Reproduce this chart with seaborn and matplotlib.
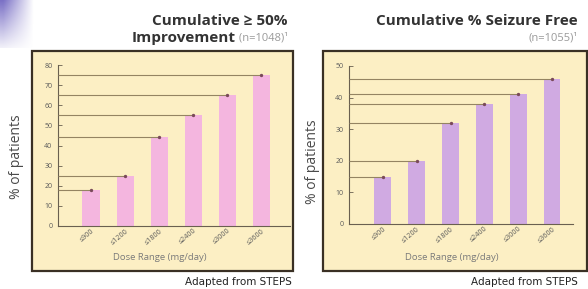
import numpy as np
import pandas as pd
import matplotlib
matplotlib.use("Agg")
import matplotlib.pyplot as plt
import seaborn as sns
from matplotlib.patches import Rectangle

categories = ["≤900", "≤1200", "≤1800", "≤2400", "≤3000", "≤3600"]
improvement = [18, 25, 44, 55, 65, 75]
seizure_free = [15, 20, 32, 38, 41, 46]
left_yticks = [0, 10, 20, 30, 40, 50, 60, 70, 80]
right_yticks = [0, 10, 20, 30, 40, 50]

sns.set_theme(style="white")
plt.rcParams['font.family'] = ['Open Sans', 'DejaVu Sans']

W, H = 588, 289
fig = plt.figure(figsize=(W / 100, H / 100), dpi=100)

def fx(px):
    return px / W

def fy(py):
    return 1 - py / H

box_face = "#FCEFC4"
box_edge = "#3a3024"

# corner purple gradient decoration
gax = fig.add_axes([0, fy(48), fx(34), 48 / H])
gx = np.linspace(0, 1, 60)
gy = np.linspace(0, 1, 80)
GX, GY = np.meshgrid(gx, gy)
alpha = np.clip((1 - GX) * 1.1, 0, 1) * np.clip(1 - GY * 0.9, 0, 1)
img = np.zeros((80, 60, 4))
img[..., 0] = 0.42
img[..., 1] = 0.38
img[..., 2] = 0.75
img[..., 3] = alpha * 0.9
gax.imshow(img, aspect="auto", extent=[0, 1, 0, 1], origin="upper")
gax.axis("off")

# boxes
for (x0, x1) in [(32, 293), (323, 587)]:
    fig.patches.append(Rectangle((fx(x0), fy(271)), fx(x1 - x0), (271 - 51) / H,
                                 transform=fig.transFigure, facecolor=box_face,
                                 edgecolor=box_edge, linewidth=1.6, zorder=-5))

panels = [
    dict(values=improvement, color="#F4B6DF", ax_rect=(58, 65, 290, 226),
         ylim=80, yticks=left_yticks, xlim=(-0.97, 5.85), dose_x=160,
         ylab_x=17, ylab_y=157, adapted_x=292),
    dict(values=seizure_free, color="#D0AAE2", ax_rect=(349, 66, 573, 224),
         ylim=50, yticks=right_yticks, xlim=(-1.0, 5.62), dose_x=452,
         ylab_x=313, ylab_y=162, adapted_x=578),
]

for p in panels:
    l, t, r, b = p["ax_rect"]
    ax = fig.add_axes([fx(l), fy(b), fx(r - l), (b - t) / H])
    ax.set_zorder(3)
    ax.set_facecolor("none")
    df = pd.DataFrame({"dose": categories, "pct": p["values"]})
    sns.barplot(data=df, x="dose", y="pct", color=p["color"], width=0.5,
                saturation=1, ax=ax, zorder=2, linewidth=0, edgecolor="none")
    ax.set_ylim(0, p["ylim"])
    ax.set_xlim(*p["xlim"])
    ax.set_yticks(p["yticks"])
    ax.set_xlabel("")
    ax.set_ylabel("")
    xs = np.arange(len(categories))
    ax.hlines(p["values"], p["xlim"][0], xs, color="#948462", lw=0.8, zorder=3)
    ax.plot(xs, p["values"], "o", ms=1.4, color="#7a4a5a", zorder=4)
    for s in ["top", "right"]:
        ax.spines[s].set_visible(False)
    for s in ["left", "bottom"]:
        ax.spines[s].set_color("#6a6050")
        ax.spines[s].set_linewidth(0.8)
    ax.tick_params(axis="y", direction="in", length=3, width=0.6, color="#6a6050",
                   labelsize=5, labelcolor="#5a5a5a", pad=4, left=True)
    ax.tick_params(axis="x", length=0, labelsize=5.2, labelcolor="#5a5a5a", pad=1)
    ax.set_xticks(xs)
    ax.set_xticklabels(categories, rotation=40, ha="right", va="top",
                       rotation_mode="anchor")
    fig.text(fx(p["dose_x"]), fy(258), "Dose Range (mg/day)", ha="center", va="center",
             fontsize=6.8, color="#7a7a7a", zorder=5)
    fig.text(fx(p["ylab_x"]), fy(p["ylab_y"]), "% of patients", rotation=90,
             ha="center", va="center", fontsize=10, color="#4a4a4a")
    fig.text(fx(p["adapted_x"]), fy(282), "Adapted from STEPS", ha="right", va="center",
             fontsize=7.5, color="#222222",
             family=["Liberation Sans Narrow", "DejaVu Sans"])

# titles
fig.text(fx(288), fy(21), "Cumulative ≥ 50%", ha="right", va="center",
         fontsize=11, fontweight="bold", color="#333333")
t2 = fig.text(fx(288), fy(38), " (n=1048)¹", ha="right", va="center",
              fontsize=8, color="#9a9a9a")
fig.canvas.draw()
bb = t2.get_window_extent()
fig.text(bb.x0 / W, fy(38), "Improvement", ha="right", va="center",
         fontsize=11, fontweight="bold", color="#333333")

fig.text(fx(578), fy(21), "Cumulative % Seizure Free", ha="right", va="center",
         fontsize=11, fontweight="bold", color="#333333")
fig.text(fx(578), fy(38), "(n=1055)¹", ha="right", va="center",
         fontsize=8, color="#9a9a9a")

fig.savefig("out.png", dpi=100)
